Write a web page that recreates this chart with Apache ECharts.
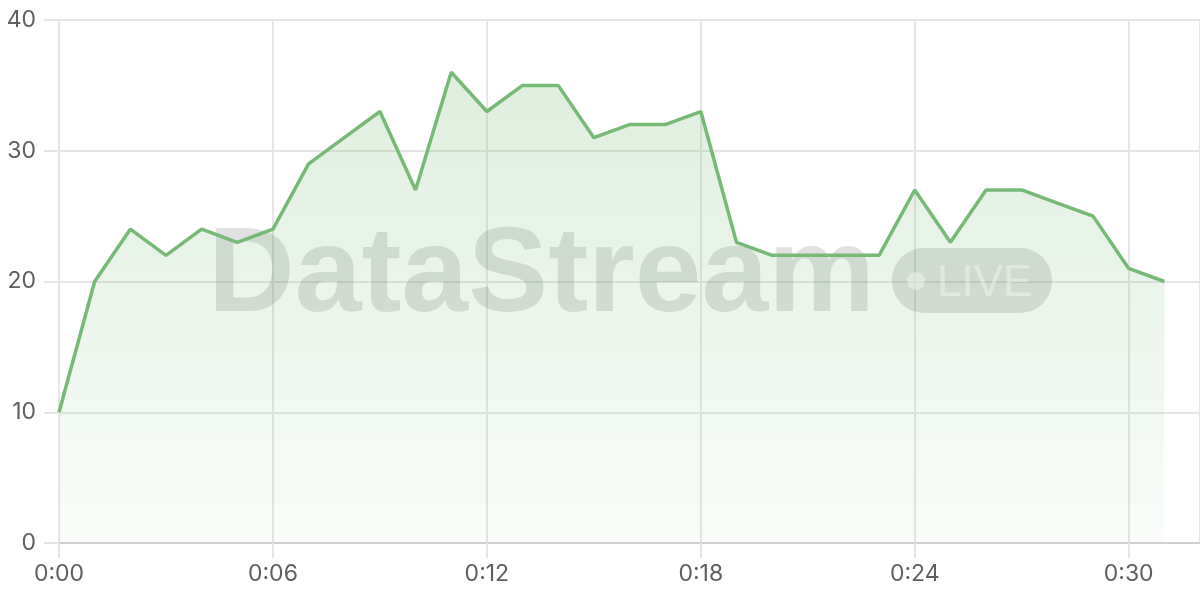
<!DOCTYPE html>
<html lang="en">
<head>
    <meta charset="UTF-8">
    <title>DataStream live</title>
    <script type="text/javascript" src="https://cdn.jsdelivr.net/npm/echarts@6/dist/echarts.min.js"></script>
    <style>
        html, body { margin: 0; padding: 0; background: #fff; }
    </style>
</head>
<body>
<div id="chart" style="width: 1200px;height: 600px;"></div>
<script type="text/javascript">
    // minutes since start
    var minutes = [0, 1, 2, 3, 4, 5, 6, 7, 8, 9, 10, 11, 12, 13, 14, 15,
        16, 17, 18, 19, 20, 21, 22, 23, 24, 25, 26, 27, 28, 29, 30, 31];
    var values = [10, 20, 24, 22, 24, 23, 24, 29, 31, 33, 27, 36, 33, 35, 35, 31,
        32, 32, 33, 23, 22, 22, 22, 22, 27, 23, 27, 27, 26, 25, 21, 20];
    var yTicks = [0, 10, 20, 30, 40];

    var lineColor = '#76ba76';
    var gridColor = '#e6e6e6';
    var labelColor = '#5f5f5f';
    var markColor = 'rgba(70,80,70,0.17)';

    var points = [];
    for (var i = 0; i < minutes.length; i++) {
        points.push([minutes[i], values[i]]);
    }

    var fmtTime = function (v) {
        var m = Math.round(v);
        return '0:' + (m < 10 ? '0' + m : m);
    };

    var chart = echarts.init(document.getElementById('chart'));
    var option = {
        backgroundColor: '#fff',
        animation: false,
        grid: {
            left: 59,
            right: 0,
            top: 20,
            bottom: 57
        },
        xAxis: {
            type: 'value',
            min: 0,
            max: 32,
            interval: 6,
            axisLine: { show: true, lineStyle: { color: '#d0d0d0', width: 2 } },
            axisTick: { show: true, length: 15, lineStyle: { color: gridColor, width: 2 } },
            splitLine: { show: true, lineStyle: { color: gridColor, width: 2 } },
            axisLabel: {
                showMaxLabel: false,
                margin: 20,
                color: labelColor,
                fontSize: 23,
                fontFamily: 'Inter',
                formatter: fmtTime
            }
        },
        yAxis: {
            type: 'value',
            min: yTicks[0],
            max: yTicks[yTicks.length - 1],
            interval: 10,
            axisLine: { show: true, lineStyle: { color: gridColor, width: 2 } },
            axisTick: { show: true, length: 15, lineStyle: { color: gridColor, width: 2 } },
            splitLine: { show: true, lineStyle: { color: gridColor, width: 2 } },
            axisLabel: {
                margin: 23,
                color: labelColor,
                fontSize: 23,
                fontFamily: 'Inter'
            }
        },
        graphic: [
            {
                type: 'text',
                z: 1,
                x: 208,
                y: 218,
                style: {
                    text: 'DataStream',
                    font: 'bold 120px "Liberation Sans"',
                    fill: markColor
                }
            },
            {
                type: 'rect',
                z: 1,
                shape: { x: 892, y: 248, width: 160, height: 65, r: 32 },
                style: { fill: markColor }
            },
            {
                type: 'circle',
                z: 1,
                shape: { cx: 916, cy: 281, r: 9 },
                style: { fill: 'rgba(255,255,255,0.55)' }
            },
            {
                type: 'text',
                z: 1,
                x: 937,
                y: 262,
                style: {
                    text: 'LIVE',
                    font: '44px "Liberation Sans"',
                    fill: 'rgba(255,255,255,0.55)'
                }
            }
        ],
        series: [{
            type: 'line',
            z: 2,
            data: points,
            symbol: 'none',
            lineStyle: { color: lineColor, width: 3.5 },
            areaStyle: {
                color: new echarts.graphic.LinearGradient(0, 0, 0, 1, [
                    { offset: 0, color: 'rgba(118,186,118,0.34)' },
                    { offset: 1, color: 'rgba(118,186,118,0.06)' }
                ])
            }
        }]
    };
    chart.setOption(option);
</script>
</body>
</html>
